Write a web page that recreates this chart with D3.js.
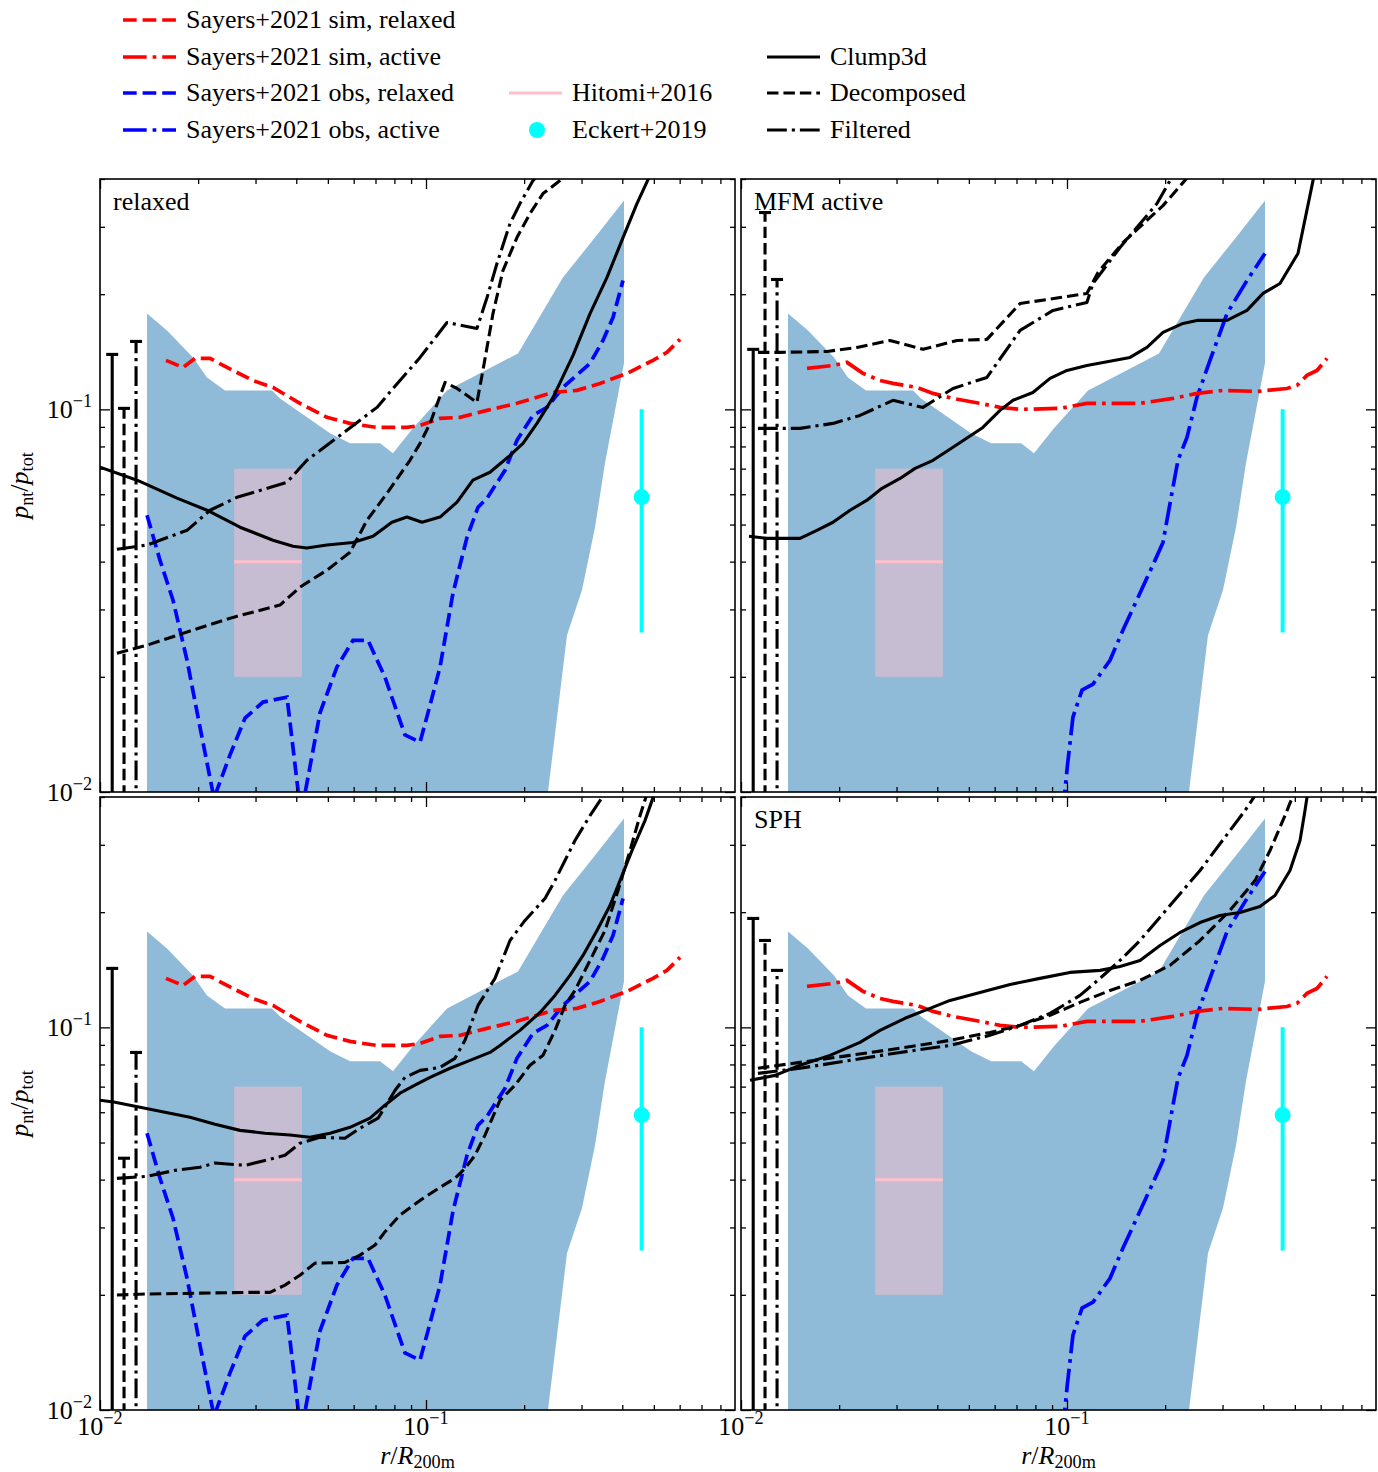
<!DOCTYPE html>
<html><head><meta charset="utf-8">
<script src="https://cdn.jsdelivr.net/npm/d3@7"></script>
<style>
body{margin:0;background:#fff}
svg{display:block}
text{font-family:"Liberation Serif","DejaVu Serif",serif;fill:#000}
</style>
</head><body>
<svg id="chart" width="1378" height="1472"></svg>
<script>
// ---------------- data ----------------
const xDomain = [0.01, 0.8869];
const yDomain = [0.01, 0.4];
const xMajorTicks = [0.01, 0.1];
const yMajorTicks = [0.01, 0.1];
const xTickLabels = ["10", "10"];
const xTickExps = ["\u22122", "\u22121"];
const yTickExps = ["\u22122", "\u22121"];

// shaded band (same in every panel)
const bandUpperX = [0.01394,0.01605,0.01929,0.02129,0.02418,0.0337,0.03566,0.05077,0.0585,0.0723,0.0792,0.0912,0.116,0.1384,0.1915,0.263,0.3298,0.4049];
const bandUpperY = [0.178,0.1607,0.1367,0.1212,0.1121,0.1121,0.1068,0.0866,0.0815,0.0815,0.0768,0.0892,0.1121,0.1212,0.14,0.2211,0.2812,0.3513];
const bandLowerX = [0.4049,0.354,0.33,0.301,0.2707,0.235,0.01394];
const bandLowerY = [0.1319,0.0723,0.0492,0.0337,0.0257,0.0095,0.0095];

// Hitomi+2016
const hitomiX = [0.0258, 0.0416];
const hitomiY = 0.04;
const hitomiRange = [0.02, 0.07];
// Eckert+2019
const eckertX = 0.4587;
const eckertY = 0.059;
const eckertRange = [0.0261, 0.1];

// Sayers+2021
const simRelX = [0.01594,0.01797,0.01956,0.02175,0.02453,0.02946,0.03394,0.04106,0.04968,0.05846,0.07074,0.0874,0.0959,0.1104,0.1272,0.1539,0.1901,0.2453,0.2905,0.3418,0.4136,0.4968,0.5486,0.6015];
const simRelY = [0.1343,0.1287,0.1359,0.1359,0.1287,0.119,0.1141,0.1037,0.0953,0.0919,0.0897,0.0897,0.0908,0.0947,0.0953,0.0994,0.1037,0.1107,0.1121,0.1169,0.1242,0.1343,0.1409,0.1524];
const simActX = [0.01594,0.01915,0.02114,0.02366,0.02669,0.02926,0.03467,0.03882,0.0447,0.0541,0.0623,0.0718,0.0952,0.1151,0.1675,0.2114,0.2504,0.301,0.3826,0.4729,0.5076,0.5447,0.5846,0.6274];
const simActY = [0.128,0.1302,0.1327,0.1242,0.119,0.1169,0.1141,0.1101,0.1068,0.1037,0.1012,0.1,0.1006,0.1037,0.1037,0.1068,0.1101,0.1121,0.1114,0.1134,0.1155,0.1227,0.1264,0.1359];
const obsRelX = [0.01394,0.01528,0.01675,0.01849,0.02026,0.02237,0.02505,0.02785,0.03162,0.03747,0.04135,0.0473,0.0533,0.0597,0.0664,0.0748,0.0862,0.0959,0.1014,0.1104,0.121,0.1336,0.1444,0.1539,0.1747,0.1901,0.2129,0.2351,0.2632,0.3185,0.349,0.3747,0.4021];
const obsRelY = [0.0529,0.0403,0.0317,0.0221,0.01478,0.00964,0.0125,0.0156,0.01718,0.0177,0.0087,0.0161,0.0212,0.0249,0.0249,0.01997,0.01409,0.0135,0.0161,0.0212,0.0331,0.0463,0.0555,0.0586,0.0693,0.083,0.0964,0.1012,0.1141,0.1319,0.1514,0.1739,0.2172];
const obsActX = [0.097,0.1002,0.1043,0.1112,0.1202,0.1355,0.1485,0.1675,0.1862,0.197,0.2026,0.2114,0.219,0.2334,0.2504,0.2746,0.3096,0.3565,0.4048];
const obsActY = [0.0088,0.01162,0.0157,0.01846,0.01914,0.0221,0.0265,0.0331,0.0403,0.0449,0.0513,0.0626,0.0736,0.0845,0.1075,0.1343,0.178,0.2172,0.2555];

// panel 1: relaxed
const p1ClumpX = [0.01,0.01299,0.01722,0.02129,0.02688,0.03394,0.0391,0.0431,0.04968,0.0597,0.0688,0.0786,0.0874,0.0972,0.1104,0.1245,0.1393,0.1571,0.181,0.1984,0.219,0.2453,0.2825,0.3185,0.3591,0.4021,0.4437,0.4798,0.504];
const p1ClumpY = [0.0706,0.0653,0.0586,0.0545,0.0492,0.0455,0.0439,0.0434,0.0442,0.0449,0.0466,0.0507,0.0523,0.0507,0.0523,0.0572,0.0653,0.0685,0.0758,0.0815,0.0919,0.1075,0.1384,0.178,0.2212,0.2812,0.345,0.3985,0.436];
const p1DecompX = [0.01127,0.01394,0.01929,0.02558,0.03565,0.04106,0.04968,0.05846,0.0659,0.0759,0.0893,0.0959,0.1029,0.1144,0.1245,0.1433,0.1495,0.1605,0.1722,0.1901,0.2084,0.2285,0.2577,0.2864];
const p1DecompY = [0.02306,0.0242,0.0265,0.0286,0.0308,0.0343,0.038,0.0423,0.0513,0.0603,0.0736,0.0815,0.0919,0.1176,0.1134,0.1043,0.1264,0.178,0.2306,0.2812,0.3249,0.3664,0.3962,0.4283];
const p1FiltX = [0.01127,0.01394,0.01849,0.02175,0.02631,0.03096,0.03747,0.0431,0.0556,0.07074,0.0792,0.0959,0.116,0.1433,0.1539,0.1651,0.181,0.1942,0.2129,0.2351];
const p1FiltY = [0.0431,0.0442,0.0483,0.0545,0.0589,0.0614,0.0645,0.0736,0.0866,0.1012,0.1134,0.1367,0.1687,0.1627,0.196,0.2405,0.3059,0.345,0.3962,0.4336];
// panel 2: MFM active
const p2ClumpX = [0.01058,0.01202,0.01517,0.01709,0.01915,0.0216,0.02435,0.02707,0.03075,0.0342,0.03882,0.0447,0.0552,0.0623,0.0683,0.0786,0.0887,0.1,0.1151,0.1561,0.1759,0.197,0.2269,0.2504,0.3096,0.3565,0.3993,0.4501,0.5111,0.5684,0.5804];
const p2ClumpY = [0.0466,0.046,0.046,0.0483,0.0507,0.0545,0.0579,0.0622,0.066,0.0701,0.0736,0.0796,0.0897,0.0994,0.1056,0.1107,0.1205,0.1264,0.1302,0.1367,0.1452,0.1589,0.1677,0.1708,0.1708,0.1814,0.2009,0.2133,0.2555,0.3962,0.4336];
const p2DecompX = [0.01127,0.01317,0.01836,0.02269,0.02865,0.03616,0.046,0.0568,0.0718,0.0952,0.1151,0.1245,0.1485,0.197,0.2269,0.247];
const p2DecompY = [0.1409,0.1409,0.1417,0.1452,0.1514,0.1435,0.1514,0.1524,0.1891,0.196,0.2009,0.2279,0.2729,0.3408,0.3914,0.4257];
const p2FiltX = [0.01127,0.01517,0.01915,0.02317,0.02926,0.03616,0.0447,0.0568,0.0718,0.0906,0.1151,0.1202,0.1454,0.1888,0.207,0.2222];
const p2FiltY = [0.0892,0.0892,0.0919,0.0964,0.1056,0.1012,0.1134,0.1212,0.1608,0.1814,0.1903,0.2133,0.2648,0.345,0.3962,0.4257];
// panel 3: (unlabelled, relaxed sample)
const p3ClumpX = [0.01,0.01112,0.01327,0.01583,0.01888,0.02253,0.02688,0.03207,0.03826,0.04406,0.05076,0.05846,0.06733,0.0748,0.0832,0.0925,0.1029,0.1185,0.1365,0.1571,0.1687,0.1942,0.2237,0.2487,0.2765,0.3031,0.3346,0.3668,0.3937,0.4283,0.4696,0.4935,0.5076];
const p3ClumpY = [0.0645,0.0637,0.0618,0.06,0.0582,0.0558,0.0538,0.0529,0.0523,0.0516,0.0529,0.0548,0.0579,0.0626,0.0673,0.0706,0.074,0.0782,0.082,0.086,0.0897,0.0982,0.1094,0.1212,0.1367,0.1542,0.1791,0.2082,0.2419,0.2898,0.347,0.3914,0.4283];
const p3DecompX = [0.01127,0.01394,0.02026,0.02884,0.03322,0.03693,0.04106,0.04566,0.0564,0.06274,0.0698,0.0748,0.0832,0.0959,0.1104,0.1227,0.1317,0.1413,0.1517,0.1687,0.1875,0.2084,0.2285,0.2487,0.2669,0.2864,0.3185,0.354,0.3882,0.4225,0.4535,0.4798];
const p3DecompY = [0.01997,0.0201,0.0202,0.0203,0.0203,0.0212,0.0225,0.0242,0.0243,0.0254,0.027,0.0292,0.0323,0.0353,0.0382,0.0403,0.0428,0.0463,0.0523,0.0645,0.0706,0.0796,0.0845,0.0982,0.1141,0.1249,0.1496,0.1791,0.2279,0.2898,0.3577,0.4158];
const p3FiltX = [0.01127,0.01394,0.01698,0.02026,0.02253,0.02785,0.03207,0.03693,0.04106,0.0473,0.0564,0.06274,0.0713,0.0804,0.0862,0.0959,0.1104,0.1227,0.1317,0.1444,0.1628,0.181,0.2012,0.2317,0.2487,0.2669,0.2864,0.3185,0.3418,0.3565];
const p3FiltY = [0.0403,0.0408,0.0423,0.0431,0.0442,0.0436,0.0449,0.0463,0.0498,0.0516,0.0513,0.0545,0.0579,0.0685,0.074,0.0772,0.0786,0.083,0.0925,0.1141,0.1343,0.1687,0.1903,0.2172,0.2419,0.2729,0.3078,0.3577,0.3914,0.4158];
// panel 4: SPH
const p4ClumpX = [0.01066,0.01272,0.01517,0.01875,0.02317,0.02669,0.03184,0.038,0.04376,0.0541,0.0669,0.0826,0.1021,0.1263,0.1454,0.1675,0.1929,0.2222,0.2559,0.2945,0.3394,0.3909,0.4345,0.4831,0.5186,0.5371,0.5486];
const p4ClumpY = [0.0727,0.0749,0.0796,0.0845,0.0914,0.0982,0.1056,0.1121,0.1176,0.1234,0.1295,0.1343,0.1392,0.1409,0.1443,0.1496,0.1637,0.177,0.1879,0.196,0.1997,0.207,0.2212,0.2571,0.3078,0.3686,0.4158];
const p4DecompX = [0.01127,0.01517,0.0216,0.03075,0.04376,0.058,0.0718,0.0887,0.1096,0.1355,0.1675,0.207,0.2559,0.3162,0.3774,0.4195,0.4664,0.4935];
const p4DecompY = [0.0782,0.081,0.0845,0.0882,0.0925,0.097,0.1012,0.1075,0.1162,0.1249,0.1327,0.1452,0.1687,0.2021,0.2419,0.2898,0.3577,0.4034];
const p4FiltX = [0.01127,0.01517,0.0216,0.03075,0.04376,0.058,0.0718,0.0887,0.1096,0.1263,0.1454,0.1675,0.207,0.2559,0.3162,0.3516,0.3774];
const p4FiltY = [0.0758,0.0782,0.082,0.086,0.0897,0.0953,0.1012,0.1088,0.1212,0.1343,0.1496,0.1687,0.2082,0.2571,0.3269,0.3686,0.4034];

// error bars at the left edge: x positions (Clump3d, Decomposed, Filtered), upper ends per panel
const errX = [0.0109, 0.01185, 0.0129];
const errLow = 0.001;
const p1ErrTop = [0.1392, 0.1006, 0.1505];
const p2ErrTop = [0.1435, 0.3269, 0.2185];
const p3ErrTop = [0.1426, 0.0455, 0.086];
const p4ErrTop = [0.1926, 0.1687, 0.1409];

const panelLabels = ["relaxed", "MFM active", "", "SPH"];

// ---------------- drawing ----------------
const svg = d3.select("#chart");
const PW = 635, PH = 613;
const FS = 26;
const blackW = 3.1, colW = 3.7;
const styles = {
  solid: null,
  dashedBlack: `${3.7*blackW},${1.6*blackW}`,
  dashdotBlack: `${6.4*blackW},${1.6*blackW},${blackW},${1.6*blackW}`,
  dashedCol: `${3.7*colW},${1.6*colW}`,
  dashdotCol: `${6.4*colW},${1.6*colW},${colW},${1.6*colW}`
};

const panels = [
  {left:100, top:179, label:panelLabels[0], active:false, yLabels:true, xLabels:false,
   clump:[p1ClumpX,p1ClumpY], decomp:[p1DecompX,p1DecompY], filt:[p1FiltX,p1FiltY], err:p1ErrTop},
  {left:741, top:179, label:panelLabels[1], active:true, yLabels:false, xLabels:false,
   clump:[p2ClumpX,p2ClumpY], decomp:[p2DecompX,p2DecompY], filt:[p2FiltX,p2FiltY], err:p2ErrTop},
  {left:100, top:797, label:panelLabels[2], active:false, yLabels:true, xLabels:true,
   clump:[p3ClumpX,p3ClumpY], decomp:[p3DecompX,p3DecompY], filt:[p3FiltX,p3FiltY], err:p3ErrTop},
  {left:741, top:797, label:panelLabels[3], active:true, yLabels:false, xLabels:true,
   clump:[p4ClumpX,p4ClumpY], decomp:[p4DecompX,p4DecompY], filt:[p4FiltX,p4FiltY], err:p4ErrTop}
];

function minorTicks(domain){
  const out=[];
  for(let e=-3;e<=1;e++){ for(let m=1;m<10;m++){ const v=m*Math.pow(10,e); if(v>=domain[0]*0.999 && v<=domain[1]*1.001) out.push(+v.toPrecision(3)); } }
  return out;
}
const xMinor = minorTicks(xDomain).filter(v=>!xMajorTicks.includes(v));
const yMinor = minorTicks(yDomain).filter(v=>!yMajorTicks.includes(v));

function addPow(sel, base, exp){
  sel.text(null);
  sel.append("tspan").text(base);
  sel.append("tspan").attr("dy", -11).attr("font-size", FS*0.7).text(exp);
}

panels.forEach((p, i) => {
  const x = d3.scaleLog().domain(xDomain).range([p.left, p.left+PW]);
  const y = d3.scaleLog().domain(yDomain).range([p.top+PH, p.top]);
  const g = svg.append("g");
  const clipId = "clip"+i;
  svg.append("clipPath").attr("id", clipId).append("rect")
    .attr("x", p.left).attr("y", p.top).attr("width", PW).attr("height", PH);
  const pg = g.append("g").attr("clip-path", `url(#${clipId})`);
  const line = d3.line().x(d=>x(d[0])).y(d=>y(d[1]));

  // band
  const bandPts = d3.zip(bandUpperX, bandUpperY).concat(d3.zip(bandLowerX, bandLowerY));
  pg.append("path").attr("d", line(bandPts)+"Z").attr("fill", "#1f77b4").attr("fill-opacity", 0.5).attr("stroke", "none");

  // Hitomi box & line
  pg.append("rect").attr("x", x(hitomiX[0])).attr("width", x(hitomiX[1])-x(hitomiX[0]))
    .attr("y", y(hitomiRange[1])).attr("height", y(hitomiRange[0])-y(hitomiRange[1]))
    .attr("fill", "pink").attr("fill-opacity", 0.5);
  pg.append("path").attr("d", line([[hitomiX[0],hitomiY],[hitomiX[1],hitomiY]]))
    .attr("stroke", "pink").attr("stroke-width", 3).attr("fill", "none");

  // Eckert
  pg.append("path").attr("d", line([[eckertX,eckertRange[0]],[eckertX,eckertRange[1]]]))
    .attr("stroke", "cyan").attr("stroke-width", 4);
  pg.append("circle").attr("cx", x(eckertX)).attr("cy", y(eckertY)).attr("r", 8).attr("fill", "cyan");

  // Sayers
  const simS = p.active ? d3.zip(simActX, simActY) : d3.zip(simRelX, simRelY);
  const obsS = p.active ? d3.zip(obsActX, obsActY) : d3.zip(obsRelX, obsRelY);
  const colDash = p.active ? styles.dashdotCol : styles.dashedCol;
  pg.append("path").attr("d", line(obsS)).attr("fill","none").attr("stroke","blue").attr("stroke-width",colW).attr("stroke-dasharray",colDash);
  pg.append("path").attr("d", line(simS)).attr("fill","none").attr("stroke","red").attr("stroke-width",colW).attr("stroke-dasharray",colDash);

  // black curves
  const blk = [[p.clump, styles.solid],[p.decomp, styles.dashedBlack],[p.filt, styles.dashdotBlack]];
  blk.forEach(([s, dash], k) => {
    pg.append("path").attr("d", line(d3.zip(s[0], s[1]))).attr("fill","none").attr("stroke","black")
      .attr("stroke-width", blackW).attr("stroke-dasharray", dash).attr("stroke-linejoin","round");
    // error bar
    pg.append("path").attr("d", line([[errX[k], errLow],[errX[k], p.err[k]]])).attr("fill","none")
      .attr("stroke","black").attr("stroke-width", blackW).attr("stroke-dasharray", dash);
    pg.append("line").attr("x1", x(errX[k])-6).attr("x2", x(errX[k])+6)
      .attr("y1", y(p.err[k])).attr("y2", y(p.err[k])).attr("stroke","black").attr("stroke-width", blackW);
  });

  // axes (inward ticks on all sides)
  const axes = [
    [d3.axisBottom(x), `translate(0,${p.top+PH})`, xMajorTicks, xMinor],
    [d3.axisTop(x), `translate(0,${p.top})`, xMajorTicks, xMinor],
    [d3.axisLeft(y), `translate(${p.left},0)`, yMajorTicks, yMinor],
    [d3.axisRight(y), `translate(${p.left+PW},0)`, yMajorTicks, yMinor]
  ];
  axes.forEach(([ax, tr, maj, min]) => {
    const a1 = g.append("g").attr("transform", tr).call(ax.tickValues(maj).tickSizeInner(-10).tickSizeOuter(0).tickFormat(""));
    const a2 = g.append("g").attr("transform", tr).call(ax.tickValues(min).tickSizeInner(-5).tickSizeOuter(0).tickFormat(""));
    [a1,a2].forEach(a => { a.select(".domain").remove(); a.selectAll("line").attr("stroke","#000").attr("stroke-width",1.3); });
  });

  // frame
  g.append("rect").attr("x", p.left).attr("y", p.top).attr("width", PW).attr("height", PH)
    .attr("fill","none").attr("stroke","#000").attr("stroke-width",1.6);

  // tick labels
  if (p.yLabels) {
    yMajorTicks.forEach((v, j) => {
      const t = g.append("text").attr("x", p.left-8).attr("y", y(v)+9).attr("text-anchor","end").attr("font-size", FS);
      addPow(t, "10", yTickExps[j]);
    });
    const yl = g.append("text").attr("transform", `translate(28,${p.top+PH/2}) rotate(-90)`)
      .attr("text-anchor","middle").attr("font-size", FS);
    yl.append("tspan").attr("font-style","italic").text("p");
    yl.append("tspan").attr("font-size", FS*0.7).attr("dy", 5).text("nt");
    yl.append("tspan").attr("dy", -5).text("/");
    yl.append("tspan").attr("font-style","italic").text("p");
    yl.append("tspan").attr("font-size", FS*0.7).attr("dy", 5).text("tot");
  }
  if (p.xLabels) {
    xMajorTicks.forEach((v, j) => {
      const t = g.append("text").attr("x", x(v)).attr("y", p.top+PH+25).attr("text-anchor","middle").attr("font-size", FS);
      addPow(t, xTickLabels[j], xTickExps[j]);
    });
    const xl = g.append("text").attr("x", p.left+PW/2).attr("y", p.top+PH+54).attr("text-anchor","middle").attr("font-size", FS);
    xl.append("tspan").attr("font-style","italic").text("r");
    xl.append("tspan").text("/");
    xl.append("tspan").attr("font-style","italic").text("R");
    xl.append("tspan").attr("font-size", FS*0.7).attr("dy", 4).text("200m");
  }
  if (p.label) {
    g.append("text").attr("x", p.left+13).attr("y", p.top+31).attr("font-size", FS).text(p.label);
  }
});

// ---------------- legend ----------------
const leg = svg.append("g");
const legLines = [
  {x:123, y:20, color:"red", w:colW, dash:styles.dashedCol, text:"Sayers+2021 sim, relaxed"},
  {x:123, y:57, color:"red", w:colW, dash:styles.dashdotCol, text:"Sayers+2021 sim, active"},
  {x:123, y:93, color:"blue", w:colW, dash:styles.dashedCol, text:"Sayers+2021 obs, relaxed"},
  {x:123, y:130, color:"blue", w:colW, dash:styles.dashdotCol, text:"Sayers+2021 obs, active"},
  {x:509, y:93, color:"pink", w:3, dash:null, text:"Hitomi+2016"},
  {x:767, y:57, color:"black", w:blackW, dash:null, text:"Clump3d"},
  {x:767, y:93, color:"black", w:blackW, dash:styles.dashedBlack, text:"Decomposed"},
  {x:767, y:130, color:"black", w:blackW, dash:styles.dashdotBlack, text:"Filtered"}
];
legLines.forEach(l => {
  leg.append("line").attr("x1", l.x).attr("x2", l.x+53).attr("y1", l.y).attr("y2", l.y)
    .attr("stroke", l.color).attr("stroke-width", l.w).attr("stroke-dasharray", l.dash);
  leg.append("text").attr("x", l.x+63).attr("y", l.y+8).attr("font-size", FS).text(l.text);
});
leg.append("circle").attr("cx", 537).attr("cy", 130).attr("r", 8).attr("fill", "cyan");
leg.append("text").attr("x", 572).attr("y", 138).attr("font-size", FS).text("Eckert+2019");
</script>
</body></html>
